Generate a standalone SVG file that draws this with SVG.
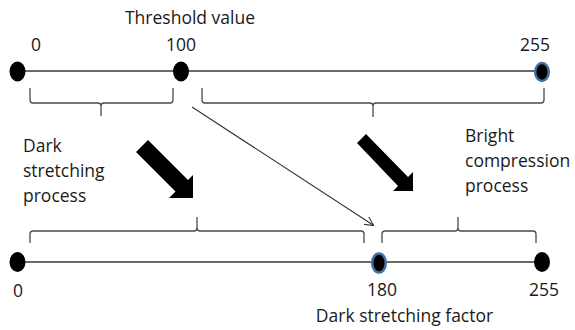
<svg xmlns="http://www.w3.org/2000/svg" width="575" height="330" viewBox="0 0 575 330">
<style>
.t{font-family:"Open Sans","Liberation Sans",sans-serif;font-size:17.5px;fill:#1a1a1a}
.m{text-anchor:middle}
.axis{stroke:#6a6a6a;stroke-width:2;fill:none}
.brace{stroke:#4a4a4a;stroke-width:1.3;fill:none}
.dot{fill:#000}
.bdot{fill:#000;stroke:#41719c;stroke-width:2.5}
.big{fill:#000}
</style>
<defs>
<marker id="open" viewBox="0 0 10 10" refX="9" refY="5" markerWidth="9" markerHeight="9" markerUnits="userSpaceOnUse" orient="auto">
<path d="M0,0 L10,5 L0,10" fill="none" stroke="#333" stroke-width="1.2"/>
</marker>
</defs>
<rect width="575" height="330" fill="#fff"/>
<g id="connectors">
<line class="axis" x1="17" y1="71" x2="542" y2="71"/>
<line class="axis" x1="17" y1="262" x2="542" y2="262"/>
<path class="brace" d="M30,88 V100 Q30,103 33,103 H98 Q101,103 101,106 V116 M101,106 Q101,103 104,103 H170 Q173,103 173,100 V88"/>
<path class="brace" d="M202,88 V100 Q202,103 205,103 H370 Q373,103 373,106 V117 M373,106 Q373,103 376,103 H541 Q544,103 544,100 V88"/>
<path class="brace" d="M30,243 V234 Q30,231 33,231 H194 Q197,231 197,228 V217 M197,228 Q197,231 200,231 H361 Q364,231 364,234 V243"/>
<path class="brace" d="M382,243 V234 Q382,231 385,231 H455 Q458,231 458,228 V217 M458,228 Q458,231 461,231 H533 Q536,231 536,234 V243"/>
<line x1="192" y1="107" x2="373" y2="225" stroke="#333" stroke-width="1.1" marker-end="url(#open)"/>
<polygon class="big" points="148,140 188,180 193,175 193,198 169,198 175.5,191.5 136,152"/>
<polygon class="big" points="366,134 408,177 413,172 413,191 393,191 398,186 357,143"/>
</g>
<g id="n-top-0"><ellipse class="dot" cx="17.5" cy="71.5" rx="8" ry="10"/><text class="t m" x="36" y="51">0</text></g>
<g id="n-top-100"><ellipse class="dot" cx="181" cy="71.5" rx="8" ry="10"/><text class="t m" x="181" y="51">100</text><text class="t m" x="190" y="24">Threshold value</text></g>
<g id="n-top-255"><ellipse class="bdot" cx="542" cy="72" rx="6.8" ry="9"/><text class="t m" x="535" y="51">255</text></g>
<g id="n-bot-0"><ellipse class="dot" cx="17.5" cy="262" rx="8" ry="10"/><text class="t m" x="18" y="297">0</text></g>
<g id="n-bot-180"><ellipse class="bdot" cx="379" cy="263" rx="6.8" ry="9.5"/><text class="t m" x="382" y="296">180</text><text class="t m" x="404.5" y="322">Dark stretching factor</text></g>
<g id="n-bot-255"><ellipse class="dot" cx="542" cy="262" rx="8" ry="10"/><text class="t m" x="544" y="296">255</text></g>
<g id="label-dark"><text class="t" x="23" y="152">Dark</text><text class="t" x="23" y="177">stretching</text><text class="t" x="23" y="202">process</text></g>
<g id="label-bright"><text class="t" x="465" y="142">Bright</text><text class="t" x="465" y="167">compression</text><text class="t" x="465" y="192">process</text></g>
</svg>
